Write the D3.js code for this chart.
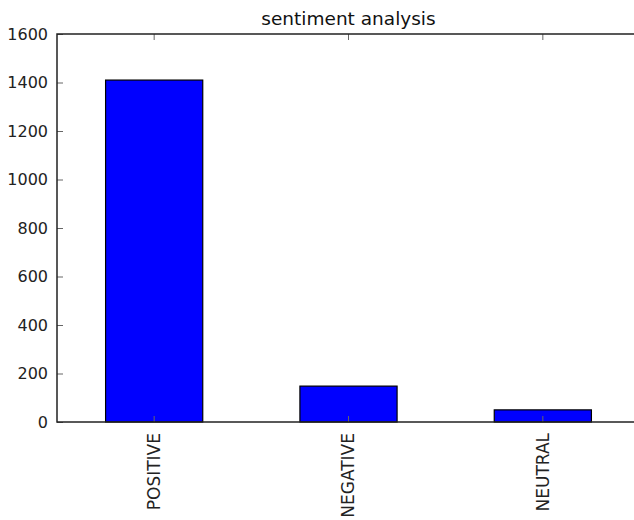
<!DOCTYPE html>
<html>
<head>
<meta charset="utf-8">
<script src="https://cdn.jsdelivr.net/npm/d3@7"></script>
<style>
  body { margin: 0; background: #fff; }
  text { font-family: "DejaVu Sans", sans-serif; }
</style>
</head>
<body>
<div id="chart"></div>
<script>
const categories = ["POSITIVE", "NEGATIVE", "NEUTRAL"];
const counts = [1410, 148, 50];
const yTicks = [0, 200, 400, 600, 800, 1000, 1200, 1400, 1600];
const title = "sentiment analysis";

const width = 634, height = 520;
const margin = {top: 34, right: -6, bottom: 98, left: 57};
const innerW = width - margin.left - margin.right;
const innerH = height - margin.top - margin.bottom;

const svg = d3.select("#chart")
  .append("svg")
  .attr("width", width)
  .attr("height", height);

const g = svg.append("g")
  .attr("transform", `translate(${margin.left},${margin.top})`);

// band scale with 0.5 bar width like pandas .plot(kind='bar')
const x = d3.scaleBand()
  .domain(categories)
  .range([0, innerW])
  .paddingInner(0.5)
  .paddingOuter(0.25);

const y = d3.scaleLinear()
  .domain([0, 1600])
  .range([innerH, 0]);

// bars
g.selectAll("rect.bar")
  .data(categories)
  .enter()
  .append("rect")
  .attr("class", "bar")
  .attr("x", d => x(d))
  .attr("y", (d, i) => y(counts[i]))
  .attr("width", x.bandwidth())
  .attr("height", (d, i) => innerH - y(counts[i]))
  .attr("fill", "#0000ff")
  .attr("stroke", "#000")
  .attr("stroke-width", 1.2);

// axes, ticks pointing inward
let axLeft = g.append("g")
  .call(d3.axisLeft(y).tickValues(yTicks).tickFormat(d3.format("d"))
    .tickSizeInner(-6).tickSizeOuter(0).tickPadding(9));
let axRight = g.append("g")
  .attr("transform", `translate(${innerW},0)`)
  .call(d3.axisRight(y).tickValues(yTicks).tickSizeInner(-6).tickSizeOuter(0).tickFormat(""));
let axBottom = g.append("g")
  .attr("transform", `translate(0,${innerH})`)
  .call(d3.axisBottom(x).tickSizeInner(-6).tickSizeOuter(0).tickPadding(0));
let axTop = g.append("g")
  .call(d3.axisTop(x).tickSizeInner(-6).tickSizeOuter(0).tickFormat(""));

[axLeft, axRight, axBottom, axTop].forEach(a => {
  a.select(".domain").remove();
  a.selectAll(".tick line").attr("stroke", "#666").attr("stroke-width", 1);
});

axLeft.selectAll(".tick text")
  .attr("font-size", "16px")
  .attr("fill", "#222");

axBottom.selectAll(".tick text")
  .attr("font-size", "17px")
  .attr("fill", "#222")
  .attr("transform", "rotate(-90)")
  .attr("text-anchor", "end")
  .attr("dy", "0.35em")
  .attr("x", -11)
  .attr("y", 0);

// frame
g.append("rect")
  .attr("width", innerW)
  .attr("height", innerH)
  .attr("fill", "none")
  .attr("stroke", "#222")
  .attr("stroke-width", 1.5);

svg.append("text")
  .attr("x", margin.left + innerW / 2)
  .attr("y", 25)
  .attr("text-anchor", "middle")
  .attr("font-size", "18.5px")
  .attr("fill", "#111")
  .text(title);
</script>
</body>
</html>
